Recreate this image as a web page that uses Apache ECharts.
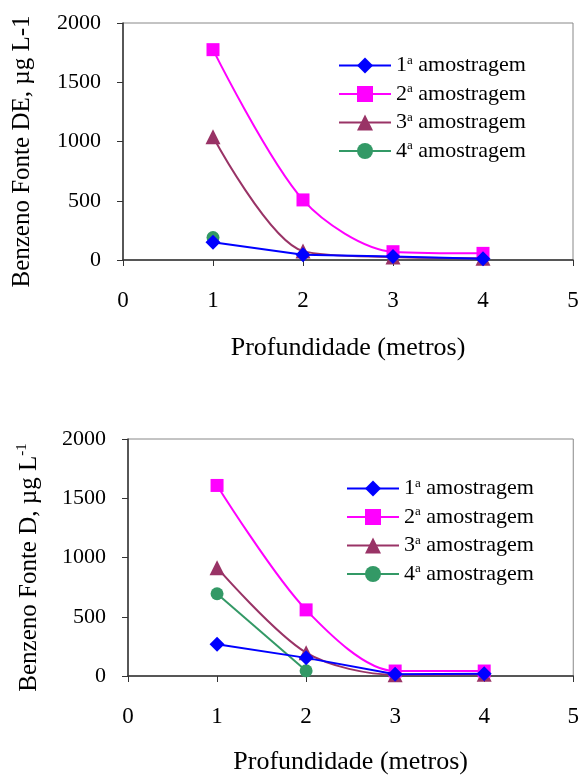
<!DOCTYPE html>
<html><head><meta charset="utf-8">
<script src="https://cdn.jsdelivr.net/npm/echarts@6/dist/echarts.min.js"></script>
<style>html,body{margin:0;padding:0;background:#fff}#c{width:582px;height:776px}</style>
</head><body><div id="c"></div>
<script>
const depths = [1, 2, 3, 4];
const seriesNames = ['1ª amostragem', '2ª amostragem', '3ª amostragem', '4ª amostragem'];
// Top chart: Benzeno Fonte DE
const topS1 = [150, 45, 30, 10];
const topS2 = [1775, 507, 70, 56];
const topS3 = [1040, 75, 25, 15];
const topS4 = [190, null, null, null];
// Bottom chart: Benzeno Fonte D
const botS1 = [267, 153, 14, 20];
const botS2 = [1608, 558, 42, 42];
const botS3 = [914, 197, 10, 14];
const botS4 = [694, 44, null, null];
const xTicks = [0, 1, 2, 3, 4, 5];
const yTicks = [0, 500, 1000, 1500, 2000];

const colors = ['#0000FF', '#FF00FF', '#993366', '#339966'];
const symbols = ['diamond', 'rect', 'triangle', 'circle'];
const symSizes = [15, 13, 15, 13];
const FONT = '"Liberation Serif", "Times New Roman", serif';

function pairs(arr) {
  return depths.map((d, i) => arr[i] == null ? null : [d, arr[i]]).filter(p => p);
}

function makeSeries(arrs, gi) {
  return arrs.map((arr, i) => ({
    name: seriesNames[i], type: 'line', xAxisIndex: gi, yAxisIndex: gi,
    data: pairs(arr), smooth: i === 0 || i === 3 ? false : 0.3,
    symbol: symbols[i], symbolSize: symSizes[i],
    lineStyle: { color: colors[i], width: 2 },
    itemStyle: { color: colors[i] },
    z: 10 - i
  }));
}

const grids = [
  { left: 123, top: 23, width: 450, height: 237 },
  { left: 128, top: 439, width: 446, height: 240 }
];

function xAxis(gi, gap) {
  return {
    type: 'value', gridIndex: gi, min: 0, max: 5, interval: 1,
    name: 'Profundidade (metros)', nameLocation: 'middle', nameGap: gap,
    nameTextStyle: { fontFamily: FONT, fontSize: 26, color: '#000' },
    axisLine: { show: true, onZero: false, lineStyle: { color: '#333', width: 1.5 } },
    axisTick: { show: true, length: 6, lineStyle: { color: '#333' } },
    axisLabel: { margin: 29, fontFamily: FONT, fontSize: 23, color: '#000', formatter: v => xTicks.includes(v) ? String(v) : '' },
    splitLine: { show: false }
  };
}
function yAxis(gi, name, gap) {
  return {
    type: 'value', gridIndex: gi, min: 0, max: 2000, interval: 500,
    name: name, nameLocation: 'middle', nameGap: gap, nameRotate: 90,
    nameTextStyle: { fontFamily: FONT, fontSize: 25, color: '#000', padding: [0, 20, 0, 0],
      rich: { t: { fontFamily: FONT, fontSize: 25, color: '#000' },
              sup: { fontFamily: FONT, fontSize: 15, color: '#000', padding: [0, 0, 14, 0] } } },
    axisLine: { show: true, lineStyle: { color: '#333', width: 1.5 } },
    axisTick: { show: true, length: 6, lineStyle: { color: '#333' } },
    axisLabel: { margin: 22, fontFamily: FONT, fontSize: 22, color: '#000', formatter: v => yTicks.includes(v) ? String(v) : '' },
    splitLine: { show: false }
  };
}

function legend(left, top) {
  return {
    left: left, top: top, orient: 'vertical', itemWidth: 52, itemHeight: 20, itemGap: 6,
    data: seriesNames,
    formatter: function (name) {
      return '{n|' + name.charAt(0) + '}{s|a}{n| amostragem}';
    },
    textStyle: {
      fontFamily: FONT, fontSize: 22, color: '#000', lineHeight: 22,
      rich: { n: { fontFamily: FONT, fontSize: 22, color: '#000', lineHeight: 22 },
              s: { fontFamily: FONT, fontSize: 13, color: '#000', padding: [0, 0, 10, 0] } }
    }
  };
}

const chart = echarts.init(document.getElementById('c'), null, { renderer: 'canvas' });
chart.setOption({
  animation: false,
  backgroundColor: '#fff',
  grid: grids.map(g => Object.assign({ show: true, borderColor: '#888', borderWidth: 1, backgroundColor: 'transparent' }, g)),
  xAxis: [xAxis(0, 75), xAxis(1, 73)],
  yAxis: [yAxis(0, 'Benzeno Fonte DE, µg L-1', 88), yAxis(1, '{t|Benzeno Fonte D, µg L}{sup|-1}', 84)],
  legend: [legend(333, 49), legend(341, 472)],
  series: makeSeries([topS1, topS2, topS3, topS4], 0).concat(makeSeries([botS1, botS2, botS3, botS4], 1))
});
</script></body></html>
